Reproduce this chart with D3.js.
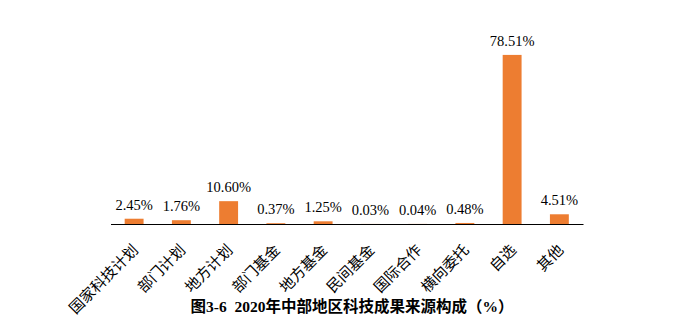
<!DOCTYPE html>
<html>
<head>
<meta charset="utf-8">
<script src="https://cdn.jsdelivr.net/npm/d3@7"></script>
<style>
  html, body { margin: 0; padding: 0; background: #fff; }
  svg { display: block; }
</style>
</head>
<body>
<svg id="chart" width="686" height="336"></svg>
<script>
// Sources of S&T achievements, central region, 2020 (%)
const categories = ["国家科技计划", "部门计划", "地方计划", "部门基金", "地方基金", "民间基金", "国际合作", "横向委托", "自选", "其他"];
const shares = [2.45, 1.76, 10.60, 0.37, 1.25, 0.03, 0.04, 0.48, 78.51, 4.51];
const titleText = "图3-6  2020年中部地区科技成果来源构成（%）";

const svg = d3.select("#chart");
const baseY = 224;

const x = d3.scaleBand()
  .domain(categories)
  .range([110.5, 583])
  .paddingInner(0.6)
  .paddingOuter(0.3);

const y = d3.scaleLinear()
  .domain([0, 80])
  .range([baseY, baseY - 172.3]);

// bars
svg.append("g").selectAll("rect")
  .data(categories)
  .join("rect")
  .attr("x", d => x(d))
  .attr("width", x.bandwidth())
  .attr("y", (d, i) => y(shares[i]))
  .attr("height", (d, i) => baseY - y(shares[i]))
  .attr("fill", "#ED7D31");

// value labels
svg.append("g").selectAll("text")
  .data(categories)
  .join("text")
  .attr("x", d => x(d) + x.bandwidth() / 2)
  .attr("y", (d, i) => y(shares[i]) - 9)
  .attr("text-anchor", "middle")
  .attr("font-family", "'Liberation Serif', 'Times New Roman', serif")
  .attr("font-size", 14.5)
  .attr("fill", "#000")
  .text((d, i) => shares[i].toFixed(2) + "%");

// category axis
const axis = svg.append("g")
  .attr("transform", `translate(0,${baseY})`)
  .call(d3.axisBottom(x).tickSize(0).tickSizeOuter(0).tickPadding(0));
axis.select(".domain").attr("stroke", "#000").attr("stroke-width", 1.2);
axis.selectAll(".tick text")
  .attr("font-family", "'Noto Sans CJK SC', sans-serif")
  .attr("font-size", 15)
  .attr("fill", "#000")
  .attr("text-anchor", "end")
  .attr("dy", null)
  .attr("transform", "translate(5,27) rotate(-45)");

// title
svg.append("text")
  .attr("x", 352)
  .attr("y", 312)
  .attr("text-anchor", "middle")
  .attr("font-family", "'Liberation Serif', 'Noto Sans CJK SC', serif")
  .attr("font-weight", "bold")
  .attr("font-size", 15.5)
  .attr("fill", "#000")
  .attr("xml:space", "preserve")
  .text(titleText);
</script>
</body>
</html>
